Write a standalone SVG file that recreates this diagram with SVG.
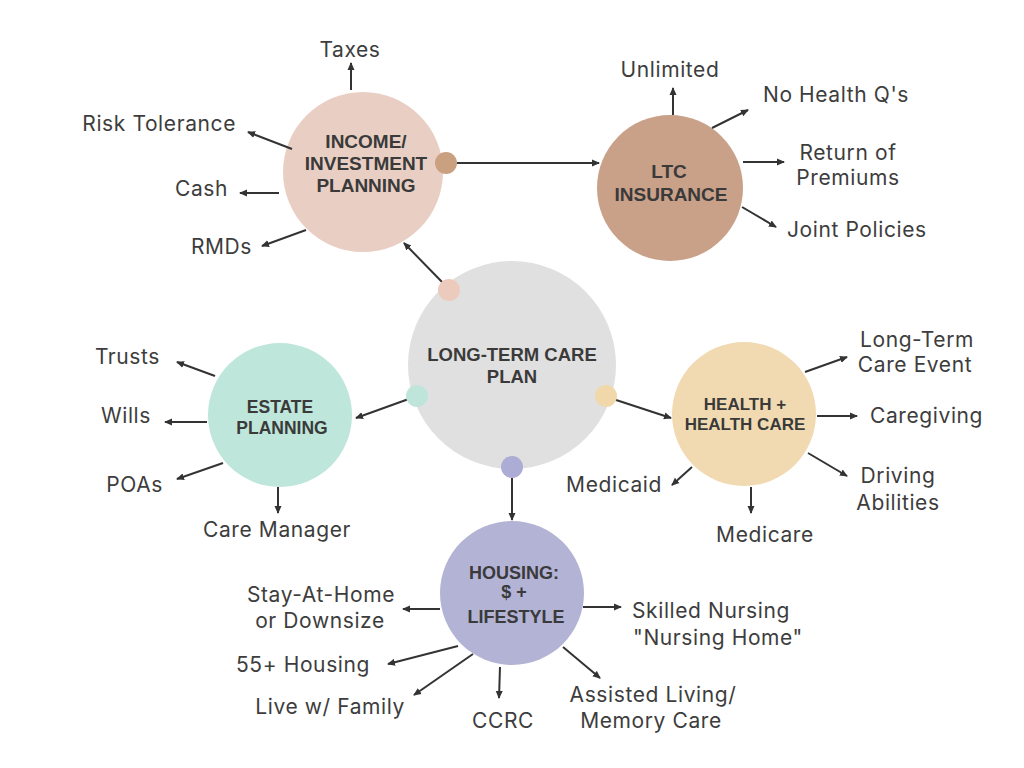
<svg xmlns="http://www.w3.org/2000/svg" width="1024" height="768" viewBox="0 0 1024 768">
<defs>
<marker id="ah" markerUnits="userSpaceOnUse" markerWidth="9" markerHeight="9" refX="7" refY="4" orient="auto">
<path d="M0,0.5 L8,4 L0,7.5 z" fill="#333"/>
</marker>
<style>
.t{font-family:"Liberation Sans",Arial,sans-serif;font-weight:bold;fill:#3a3a3a;text-anchor:middle}
.l{font-family:Inter,"Liberation Sans",sans-serif;font-size:21px;letter-spacing:0.6px;fill:#3d3d3d}
.c{stroke:#333;stroke-width:2;fill:none}
.a{marker-end:url(#ah)}
</style>
</defs>
<rect width="1024" height="768" fill="#ffffff"/>

<g id="connectors">
<line class="c a" x1="443" y1="283" x2="404" y2="243"/>
<line class="c a" x1="457" y1="163" x2="599" y2="163"/>
<line class="c a" x1="417" y1="396" x2="356" y2="418"/>
<line class="c a" x1="610" y1="398" x2="671" y2="418"/>
<line class="c a" x1="512" y1="478" x2="512" y2="520"/>
</g>

<g id="center">
<circle cx="512" cy="365" r="104" fill="#e0e0e0"/>
<circle cx="449" cy="290" r="11" fill="#eccbbd"/>
<circle cx="417" cy="396" r="11" fill="#bfe5da"/>
<circle cx="606" cy="396" r="11" fill="#f0d8aa"/>
<circle cx="512" cy="467" r="11" fill="#acacd4"/>
<text class="t" font-size="18.5" x="512" y="361">LONG-TERM CARE</text>
<text class="t" font-size="18.5" x="512" y="383">PLAN</text>
</g>

<g id="income">
<circle cx="363" cy="172" r="80" fill="#e9cfc3"/>
<circle cx="446" cy="163" r="11" fill="#c9a080"/>
<text class="t" font-size="19" x="366" y="148">INCOME/</text>
<text class="t" font-size="19" x="366" y="170">INVESTMENT</text>
<text class="t" font-size="19" x="366" y="192">PLANNING</text>
<line class="c a" x1="351" y1="90" x2="351" y2="63"/>
<line class="c a" x1="292" y1="149" x2="248" y2="132"/>
<line class="c a" x1="279" y1="193" x2="240" y2="193"/>
<line class="c a" x1="306" y1="230" x2="262" y2="246"/>
<text class="l" x="350" y="57" text-anchor="middle">Taxes</text>
<text class="l" x="236" y="131" text-anchor="end">Risk Tolerance</text>
<text class="l" x="228" y="196" text-anchor="end">Cash</text>
<text class="l" x="252" y="254" text-anchor="end">RMDs</text>
</g>

<g id="ltc">
<circle cx="670" cy="188" r="73" fill="#c9a088"/>
<text class="t" font-size="19" x="669" y="178">LTC</text>
<text class="t" font-size="19" x="671" y="201">INSURANCE</text>
<line class="c a" x1="673" y1="115" x2="673" y2="88"/>
<line class="c a" x1="712" y1="128" x2="748" y2="110"/>
<line class="c a" x1="743" y1="162" x2="784" y2="162"/>
<line class="c a" x1="742" y1="207" x2="776" y2="227"/>
<text class="l" x="670" y="77" text-anchor="middle">Unlimited</text>
<text class="l" x="763" y="102">No Health Q's</text>
<text class="l" x="848" y="160" text-anchor="middle">Return of</text>
<text class="l" x="848" y="185" text-anchor="middle">Premiums</text>
<text class="l" x="787" y="237">Joint Policies</text>
</g>

<g id="estate">
<circle cx="280" cy="415" r="72" fill="#bfe6da"/>
<text class="t" font-size="17.5" x="280" y="413">ESTATE</text>
<text class="t" font-size="17.5" x="282" y="434">PLANNING</text>
<line class="c a" x1="215" y1="376" x2="177" y2="362"/>
<line class="c a" x1="207" y1="422" x2="165" y2="422"/>
<line class="c a" x1="223" y1="463" x2="177" y2="479"/>
<line class="c a" x1="278" y1="487" x2="278" y2="513"/>
<text class="l" x="160" y="364" text-anchor="end">Trusts</text>
<text class="l" x="151" y="423" text-anchor="end">Wills</text>
<text class="l" x="163" y="492" text-anchor="end">POAs</text>
<text class="l" x="277" y="537" text-anchor="middle">Care Manager</text>
</g>

<g id="health">
<circle cx="744" cy="414" r="72" fill="#f1dab1"/>
<text class="t" font-size="17" x="745" y="410">HEALTH +</text>
<text class="t" font-size="17" x="745" y="430">HEALTH CARE</text>
<line class="c a" x1="805" y1="372" x2="847" y2="357"/>
<line class="c a" x1="817" y1="416" x2="857" y2="416"/>
<line class="c a" x1="808" y1="453" x2="847" y2="476"/>
<line class="c a" x1="692" y1="467" x2="672" y2="485"/>
<line class="c a" x1="751" y1="487" x2="751" y2="513"/>
<text class="l" x="917" y="347" text-anchor="middle">Long-Term</text>
<text class="l" x="915" y="372" text-anchor="middle">Care Event</text>
<text class="l" x="870" y="423">Caregiving</text>
<text class="l" x="898" y="483" text-anchor="middle">Driving</text>
<text class="l" x="898" y="510" text-anchor="middle">Abilities</text>
<text class="l" x="662" y="492" text-anchor="end">Medicaid</text>
<text class="l" x="765" y="542" text-anchor="middle">Medicare</text>
</g>

<g id="housing">
<circle cx="512" cy="593" r="72" fill="#b3b3d5"/>
<text class="t" font-size="18" x="514" y="579">HOUSING:</text>
<text class="t" font-size="18" x="514" y="598">$ +</text>
<text class="t" font-size="18" x="516" y="623">LIFESTYLE</text>
<line class="c a" x1="440" y1="609" x2="403" y2="609"/>
<line class="c a" x1="458" y1="646" x2="388" y2="664"/>
<line class="c a" x1="473" y1="654" x2="414" y2="695"/>
<line class="c a" x1="500" y1="667" x2="499" y2="698"/>
<line class="c a" x1="563" y1="647" x2="600" y2="678"/>
<line class="c a" x1="583" y1="607" x2="621" y2="607"/>
<text class="l" x="321" y="602" text-anchor="middle">Stay-At-Home</text>
<text class="l" x="320" y="628" text-anchor="middle">or Downsize</text>
<text class="l" x="370" y="672" text-anchor="end">55+ Housing</text>
<text class="l" x="405" y="714" text-anchor="end">Live w/ Family</text>
<text class="l" x="503" y="728" text-anchor="middle">CCRC</text>
<text class="l" x="653" y="702" text-anchor="middle">Assisted Living/</text>
<text class="l" x="651" y="728" text-anchor="middle">Memory Care</text>
<text class="l" x="632" y="618">Skilled Nursing</text>
<text class="l" x="633" y="645">"Nursing Home"</text>
</g>
</svg>
